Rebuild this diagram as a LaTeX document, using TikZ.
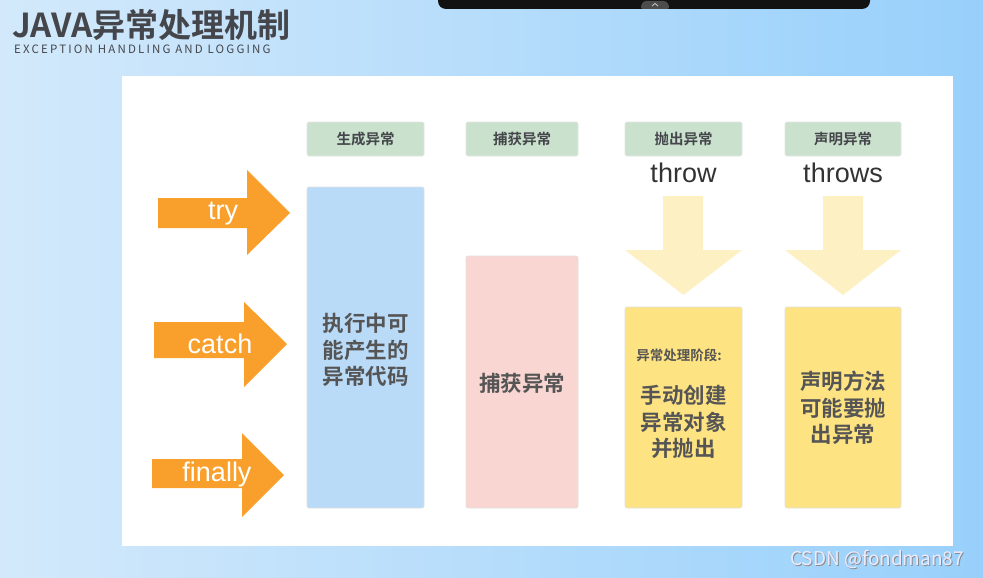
\documentclass[tikz,border=0pt]{standalone}
\usepackage{fontspec}
\setmainfont{Noto Sans CJK SC}
\newfontfamily\cjk{Noto Sans CJK SC}
\newfontfamily\cjkb{Noto Sans CJK SC Bold}
\newfontfamily\latin{Liberation Sans}
\newfontfamily\subfont[LetterSpace=19]{Noto Sans CJK SC}
\definecolor{bgL}{HTML}{D3E9FB}
\definecolor{bgR}{HTML}{98D0FB}
\definecolor{hdr}{HTML}{C9E1CD}
\definecolor{bluebox}{HTML}{B9DBF8}
\definecolor{pinkbox}{HTML}{F9D6D2}
\definecolor{yelbox}{HTML}{FEE382}
\definecolor{lightyel}{HTML}{FDF1C4}
\definecolor{orangearr}{HTML}{F9A02C}
\definecolor{txtgray}{HTML}{555555}
\definecolor{titlegray}{HTML}{45464B}
\tikzset{
  hdrbox/.style={fill=hdr, draw=black!10, line width=0.6pt, rounded corners=1.5pt},
  colbox/.style={draw=black!12, line width=0.6pt, rounded corners=2pt},
  hdrtext/.style={font=\cjkb\fontsize{14.5}{16}\selectfont, text=titlegray},
  boxtext/.style={font=\cjkb\fontsize{21.5}{26.5}\selectfont, text=txtgray, align=center},
  kwtext/.style={font=\latin\fontsize{27}{30}\selectfont, text=black!80},
  arrtext/.style={font=\latin\fontsize{27}{30}\selectfont, text=white},
  orarrow/.style={fill=orangearr},
  yelarrow/.style={fill=lightyel}
}
\begin{document}
\begin{tikzpicture}[x=1pt,y=-1pt]
\useasboundingbox (0,0) rectangle (983,578);
% background
\shade[left color=bgL, right color=bgR] (0,0) rectangle (983,578);
% top bar
\fill[black!93, rounded corners=8pt] (438,-12) rectangle (870,9);
\fill[black!70, rounded corners=3pt] (640,9) -- (643,1) -- (667,1) -- (670,9) -- cycle;
\draw[white!80!black, line width=0.8pt] (652,6) -- (655,3.5) -- (658,6);
% title
\node[anchor=west, font=\cjkb\fontsize{33}{35}\selectfont, text=titlegray, inner sep=0] (title) at (12,25) {JAVA异常处理机制};
\node[anchor=west, font=\subfont\fontsize{11.5}{13}\selectfont, text=titlegray, inner sep=0] (subtitle) at (14,49) {EXCEPTION HANDLING AND LOGGING};
% white panel
\fill[white] (122,76) rectangle (953,546);
% headers
\draw[hdrbox] (307,122) rectangle (424,156);
\node[hdrtext] (h1) at (365.5,139) {生成异常};
\draw[hdrbox] (466,122) rectangle (578,156);
\node[hdrtext] (h2) at (522,139) {捕获异常};
\draw[hdrbox] (625,122) rectangle (742,156);
\node[hdrtext] (h3) at (683.5,139) {抛出异常};
\draw[hdrbox] (785,122) rectangle (901,156);
\node[hdrtext] (h4) at (843,139) {声明异常};
% column boxes
\draw[colbox, fill=bluebox] (307,187) rectangle (424,508);
\node[boxtext] (b1) at (365.5,350) {执行中可\\能产生的\\异常代码};
\draw[colbox, fill=pinkbox] (466,256) rectangle (578,508);
\node[boxtext] (b2) at (522,383) {捕获异常};
\draw[colbox, fill=yelbox] (625,307) rectangle (742,508);
\node[font=\cjkb\fontsize{13.5}{15}\selectfont, text=txtgray] (b3a) at (679,355) {异常处理阶段:};
\node[boxtext] (b3) at (683.5,422) {手动创建\\异常对象\\并抛出};
\draw[colbox, fill=yelbox] (785,307) rectangle (901,508);
\node[boxtext] (b4) at (843,408) {声明方法\\可能要抛\\出异常};
% keywords
\node[kwtext] (kw1) at (683.5,173) {throw};
\node[kwtext] (kw2) at (843,173) {throws};
% down arrows
\fill[yelarrow] (663,196) -- (703,196) -- (703,250) -- (742,250) -- (683.5,295) -- (625,250) -- (663,250) -- cycle;
\fill[yelarrow] (823,196) -- (863,196) -- (863,250) -- (901,250) -- (843,295) -- (785,250) -- (823,250) -- cycle;
% orange arrows
\fill[orarrow] (158,198) -- (247,198) -- (247,170) -- (290,213) -- (247,255) -- (247,228) -- (158,228) -- cycle;
\node[arrtext] (try) at (223,214) {try};
\fill[orarrow] (154,322) -- (244,322) -- (244,302) -- (287,344) -- (244,387) -- (244,358) -- (154,358) -- cycle;
\node[arrtext] (catch) at (220,344) {catch};
\fill[orarrow] (152,459) -- (242,459) -- (242,433) -- (284,475) -- (242,517) -- (242,488) -- (152,488) -- cycle;
\node[arrtext] (finally) at (217,475) {finally};
% watermark
\node[font=\cjk\fontsize{19}{21}\selectfont, text=black!45] at (878,560) {CSDN @fondman87};
\node[font=\cjk\fontsize{19}{21}\selectfont, text=white!92!blue] (wm) at (877,559) {CSDN @fondman87};
\end{tikzpicture}
\end{document}
